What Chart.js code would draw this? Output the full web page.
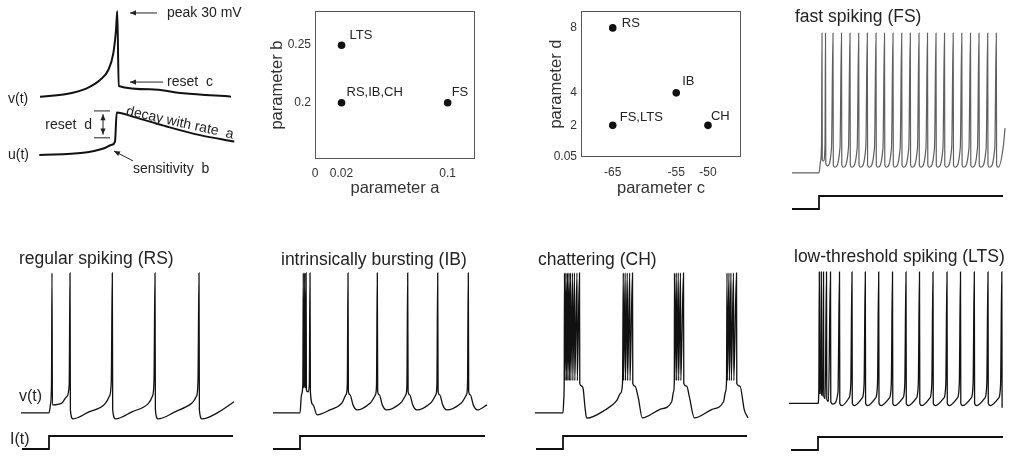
<!DOCTYPE html>
<html>
<head>
<meta charset="utf-8">
<title>Izhikevich neuron model: parameters and firing patterns</title>
<script src="https://cdn.jsdelivr.net/npm/chart.js"></script>
<style>
  html, body { margin: 0; padding: 0; background: #fff; }
  #page { position: relative; width: 1010px; height: 458px; overflow: hidden; background: #fff; }
  canvas { position: absolute; }
</style>
</head>
<body>
<div id="page">
  <canvas id="schematic" width="255" height="200" style="left:0px;top:0px"></canvas>
  <canvas id="paramAB" width="235" height="200" style="left:255px;top:0px"></canvas>
  <canvas id="paramCD" width="255" height="200" style="left:505px;top:0px"></canvas>
  <canvas id="traceFS" width="240" height="225" style="left:770px;top:0px"></canvas>
  <canvas id="traceRS" width="255" height="218" style="left:0px;top:240px"></canvas>
  <canvas id="traceIB" width="250" height="218" style="left:260px;top:240px"></canvas>
  <canvas id="traceCH" width="245" height="218" style="left:515px;top:240px"></canvas>
  <canvas id="traceLTS" width="240" height="218" style="left:770px;top:240px"></canvas>
</div>
<script>
// ---------- schematic of one spike: membrane potential v and recovery variable u ----------
const schemTime  = [0, 26.7, 46.7, 60, 68.3, 73.3, 76, 77.3, 78.7, 110, 143.3, 191];
const schemV     = [-78.5, -75.1, -67.9, -57.4, -44.7, -23.6, 5.9, 30, -65, -69.2, -74.2, -78.5];
const schemUTime = [-0.7, 43.3, 63.3, 71.7, 75, 76.7, 93.3, 126.7, 160, 194.3];
const schemU     = [-14, -13.6, -12.8, -12.1, -11.5, -6.1, -6.9, -8.7, -10.3, -11.5];

// ---------- parameter maps ----------
const cellTypesAB = ['LTS', 'RS,IB,CH', 'FS'];
const paramA = [0.02, 0.02, 0.1];
const paramB = [0.25, 0.2, 0.2];
const aTicks = [0, 0.02, 0.1];
const bTicks = [0.2, 0.25];

const cellTypesCD = ['RS', 'IB', 'FS,LTS', 'CH'];
const paramC = [-65, -55, -65, -50];
const paramD = [8, 4, 2, 2];
const cTicks = [-65, -55, -50];
const dTicks = [0.05, 2, 4, 8];

// ---------- injected current step (I) ----------
const stepCurrent = [0, 0, 10, 10];
const rsStimTime  = [1, 28, 28, 212];
const ibStimTime  = [0, 27, 27, 212];
const chStimTime  = [1, 28, 28, 212];
const ltsStimTime = [2, 29, 29, 214];
const fsStimTime  = [0, 27, 27, 211];

// ---------- regular spiking (RS) ----------
const rsTime = [0, 28, 29.5, 30.5, 31, 31.4, 40.7, 45.7, 48.2, 49, 49.4, 52, 68, 84, 88.5, 90.3, 91.3,
  91.7, 94.5, 111, 127, 131.5, 133, 134, 134.4, 137, 154, 170, 175.5, 177, 178, 178.4, 181, 198, 213];
const rsVolt = [-70, -70, -64, -50, 30, -64.3, -63.1, -58.4, -50, 30, -68, -74.3, -69.3, -63.6, -58, -47, 30,
  -68, -74.3, -69.3, -63.6, -58, -47, 30, -68, -74.3, -69.3, -63.6, -58, -47, 30, -68, -74.3, -69.3, -62.1];

// ---------- intrinsically bursting (IB) ----------
const ibTime = [0, 27, 28.5, 29.8, 30.3, 30.6, 31.2, 31.7, 32, 32.6, 33.1, 33.4, 35, 36.3, 37,
  37.4, 40, 44, 57, 69, 73, 74.3, 75,
  75.4, 77, 80, 84, 97.3, 102.5, 103.5, 104.3,
  104.7, 106.3, 109.3, 113.3, 127.7, 132.9, 133.9, 134.7,
  135.1, 136.7, 139.7, 143.7, 157.7, 162.9, 163.9, 164.7,
  165.1, 166.7, 169.7, 173.7, 188.3, 193.5, 194.5, 195.3,
  195.7, 197.3, 200.3, 204.3, 214];
const ibVolt = [-70, -70, -57, -50, 30, -52, -50, 30, -52, -50, 30, -53.5, -55, -50, 30,
  -55, -64.3, -71.4, -67.9, -62.9, -57, -50, 30,
  -55, -57.1, -64.3, -67.9, -62.9, -57, -50, 30,
  -55, -57.1, -64.3, -67.9, -62.9, -57, -50, 30,
  -55, -57.1, -64.3, -67.9, -62.9, -57, -50, 30,
  -55, -57.1, -64.3, -67.9, -62.9, -57, -50, 30,
  -55, -57.1, -64.3, -67.9, -64.3];

// ---------- chattering (CH) ----------
const chTime = [0, 28, 28.8, 29.2, 29.5, 29.8, 31, 31.3, 32.5, 32.8, 34, 34.3, 35.5, 35.8, 37.5, 37.8, 39.5, 39.8, 42, 42.3, 44.5,
  44.8, 47, 48.3, 50, 51.7, 70, 81.7, 85.5, 87.5,
  88.3, 88.6, 90.2, 90.5, 92.3, 92.6, 94.7, 95, 97.5,
  97.8, 100, 103.3, 107.3, 125, 136.7, 138.5, 139.3,
  139.5, 139.8, 141.3, 141.6, 143.3, 143.6, 145.5, 145.8, 148.5,
  148.8, 151.7, 154.5, 159.3, 177, 188.5, 190.5, 191.5,
  192, 192.3, 194, 194.3, 196, 196.3, 198.5, 198.8, 201.5,
  201.8, 205, 209.3, 213];
const chVolt = [-70, -70, -60, -48, 30, -47, 30, -47, 30, -47, 30, -47, 30, -47, 30, -47, 30, -47, 30, -47, 30,
  -49, -51, -53.6, -66, -73.8, -68, -61.2, -56, -49,
  30, -47, 30, -47, 30, -47, 30, -47, 30,
  -49, -51, -59.3, -73.6, -67.5, -62.1, -55, -48,
  30, -47, 30, -47, 30, -47, 30, -47, 30,
  -49, -51, -59, -73.6, -67.5, -62.1, -55, -48,
  30, -47, 30, -47, 30, -47, 30, -47, 30,
  -49, -51, -67.9, -73.6];

// ---------- low-threshold spiking (LTS) ----------
const ltsTime = [0, 29, 29.8, 30.3, 30.6, 31.5, 32.3, 32.6, 33.6, 34.5, 34.8, 36.2, 37.5, 37.8, 39.5, 41.5,
  41.8, 44, 49, 50.5,
  50.8, 53, 60, 61.8, 63,
  63.3, 65.5, 73.3, 75.1, 76.3,
  76.6, 78.8, 86.7, 88.5, 89.7,
  90, 92.2, 100.5, 102.3, 103.5,
  103.8, 106, 114, 115.8, 117,
  117.3, 119.5, 127.5, 129.3, 130.5,
  130.8, 133, 141, 142.8, 144,
  144.3, 146.5, 155, 156.8, 158,
  158.3, 160.5, 168.5, 170.3, 171.5,
  171.8, 174, 182.3, 184.1, 185.3,
  185.6, 187.8, 196, 197.8, 199,
  199.3, 201.5, 209.8, 211.6, 212.8,
  213.1];
const ltsVolt = [-64, -64, -55, 30, -56, -57, 30, -57.5, -58.5, 30, -59, -60.5, 30, -61, -62.5, 30,
  -63, -64.5, -56, 30,
  -64, -65.5, -60, -50, 30,
  -64, -65.5, -60, -50, 30,
  -64, -65.5, -60, -50, 30,
  -64, -65.5, -60, -50, 30,
  -64, -65.5, -60, -50, 30,
  -64, -65.5, -60, -50, 30,
  -64, -65.5, -60, -50, 30,
  -64, -65.5, -60, -50, 30,
  -64, -65.5, -60, -50, 30,
  -64, -65.5, -60, -50, 30,
  -64, -65.5, -60, -50, 30,
  -64, -65.5, -60, -50, 30,
  -67];

// ---------- fast spiking (FS) ----------
const fsTime = [0, 27, 28.5, 29.5, 30, 30.3, 31.5, 33, 33.5, 33.8, 35.5, 39.5, 41,
  41.3, 43, 48, 49.5,
  49.8, 51.5, 56.5, 58,
  58.3, 60, 65.2, 66.7,
  67, 68.7, 73.8, 75.3,
  75.6, 77.3, 82.5, 84,
  84.3, 86, 91, 92.5,
  92.8, 94.5, 99.5, 101,
  101.3, 103, 108.2, 109.7,
  110, 111.7, 116.8, 118.3,
  118.6, 120.3, 125.5, 127,
  127.3, 129, 134, 135.5,
  135.8, 137.5, 142.5, 144,
  144.3, 146, 151, 152.5,
  152.8, 154.5, 159.7, 161.2,
  161.5, 163.2, 168.3, 169.8,
  170.1, 171.8, 177, 178.5,
  178.8, 180.5, 185.5, 187,
  187.3, 189, 194.2, 195.7,
  196, 197.7, 202.8, 204.3,
  204.6, 206.3, 211.5, 213];
const fsVolt = [-70, -70, -62, -50, 30, -60.5, -61.5, -50, 30, -63, -65, -52, 30,
  -64.5, -66, -52, 30,
  -64.5, -66, -52, 30,
  -64.5, -66, -52, 30,
  -64.5, -66, -52, 30,
  -64.5, -66, -52, 30,
  -64.5, -66, -52, 30,
  -64.5, -66, -52, 30,
  -64.5, -66, -52, 30,
  -64.5, -66, -52, 30,
  -64.5, -66, -52, 30,
  -64.5, -66, -52, 30,
  -64.5, -66, -52, 30,
  -64.5, -66, -52, 30,
  -64.5, -66, -52, 30,
  -64.5, -66, -52, 30,
  -64.5, -66, -52, 30,
  -64.5, -66, -52, 30,
  -64.5, -66, -52, 30,
  -64.5, -66, -52, 30,
  -64.5, -66, -50, -38];

// ---------- drawing ----------
const FONT = '"Liberation Sans", Arial, Helvetica, sans-serif';
Chart.defaults.font.family = FONT;
Chart.defaults.color = '#333';

const pairs = (xs, ys) => xs.map((x, i) => ({ x: x, y: ys[i] }));

function arrowHead(ctx, x1, y1, x2, y2) {
  const ang = Math.atan2(y2 - y1, x2 - x1), len = 6, half = 2.6;
  ctx.beginPath();
  ctx.moveTo(x2, y2);
  ctx.lineTo(x2 - len * Math.cos(ang) + half * Math.sin(ang), y2 - len * Math.sin(ang) - half * Math.cos(ang));
  ctx.lineTo(x2 - len * Math.cos(ang) - half * Math.sin(ang), y2 - len * Math.sin(ang) + half * Math.cos(ang));
  ctx.closePath();
  ctx.fill();
}

// text, arrows and brackets placed in data space (or canvas space for panel titles)
function annotate(items) {
  return {
    id: 'annotate',
    afterDatasetsDraw(chart) {
      const ctx = chart.ctx;
      const place = (p, axis) => [chart.scales.x.getPixelForValue(p[0]), chart.scales[axis].getPixelForValue(p[1])];
      ctx.save();
      items.forEach(it => {
        const axis = it.axis || 'y';
        ctx.strokeStyle = it.color || '#222';
        ctx.fillStyle = it.color || '#222';
        ctx.lineWidth = it.width || 1;
        if (it.kind === 'text') {
          let [x, y] = it.px ? it.px : place(it.at, axis);
          x += it.dx || 0;
          y += it.dy || 0;
          ctx.font = (it.size || 14) + 'px ' + FONT;
          ctx.textAlign = it.align || 'left';
          ctx.textBaseline = 'middle';
          ctx.save();
          ctx.translate(x, y);
          if (it.rotate) ctx.rotate(it.rotate * Math.PI / 180);
          ctx.fillText(it.text, 0, 0);
          ctx.restore();
        } else {
          const [x1, y1] = place(it.from, axis);
          const [x2, y2] = place(it.to, axis);
          ctx.beginPath();
          ctx.moveTo(x1, y1);
          ctx.lineTo(x2, y2);
          ctx.stroke();
          if (it.kind === 'arrow' || it.kind === 'both') arrowHead(ctx, x1, y1, x2, y2);
          if (it.kind === 'both') arrowHead(ctx, x2, y2, x1, y1);
        }
      });
      ctx.restore();
    }
  };
}

// box around a parameter map
const frame = {
  id: 'frame',
  beforeDatasetsDraw(chart) {
    const { left, top, right, bottom } = chart.chartArea;
    const ctx = chart.ctx;
    ctx.save();
    ctx.strokeStyle = '#555';
    ctx.lineWidth = 1;
    ctx.strokeRect(Math.round(left) + 0.5, Math.round(top) + 0.5, Math.round(right - left) - 1, Math.round(bottom - top) - 1);
    ctx.restore();
  }
};

const base = {
  animation: false,
  responsive: false,
  events: [],
  plugins: { legend: { display: false }, tooltip: { enabled: false } }
};

// spike schematic
new Chart(document.getElementById('schematic'), {
  type: 'line',
  data: {
    datasets: [
      { data: pairs(schemTime, schemV), yAxisID: 'y', borderColor: '#111', borderWidth: 2, pointRadius: 0,
        cubicInterpolationMode: 'monotone', clip: false },
      { data: pairs(schemUTime, schemU), yAxisID: 'yU', borderColor: '#111', borderWidth: 2, pointRadius: 0,
        cubicInterpolationMode: 'monotone', clip: false }
    ]
  },
  options: Object.assign({}, base, {
    layout: { padding: { left: 40, right: 15, top: 5, bottom: 15 } },
    scales: {
      x: { type: 'linear', display: false, min: 0, max: 200 },
      y: { type: 'linear', display: false, min: -190.4, max: 37.6 },
      yU: { type: 'linear', display: false, min: -19.58, max: 13.91 }
    }
  }),
  plugins: [annotate([
    { kind: 'arrow', from: [117, 27.5], to: [90, 27.5] },
    { kind: 'text', text: 'peak 30 mV', at: [127, 27.5] },
    { kind: 'arrow', from: [123, -60], to: [90, -60] },
    { kind: 'text', text: 'reset  c', at: [127, -60] },
    { kind: 'text', text: 'v(t)', at: [-32, -81.5] },
    { kind: 'text', text: 'u(t)', at: [-32, -14], axis: 'yU' },
    { kind: 'line', from: [54, -5.8], to: [70, -5.8], axis: 'yU' },
    { kind: 'line', from: [54, -10.8], to: [70, -10.8], axis: 'yU' },
    { kind: 'both', from: [63, -6.4], to: [63, -10.2], axis: 'yU' },
    { kind: 'text', text: 'reset  d', at: [52, -8.4], axis: 'yU', align: 'right' },
    { kind: 'text', text: 'decay with rate  a', at: [140, -8.05], axis: 'yU', align: 'center', rotate: 12.5 },
    { kind: 'arrow', from: [93, -15.1], to: [74, -13.26], axis: 'yU' },
    { kind: 'text', text: 'sensitivity  b', at: [93, -16.6], axis: 'yU' }
  ])]
});

// parameter maps (a,b) and (c,d)
function paramChart(id, o) {
  new Chart(document.getElementById(id), {
    type: 'scatter',
    data: {
      datasets: [{ data: pairs(o.xs, o.ys), pointRadius: 3.8, pointHoverRadius: 3.8,
        backgroundColor: '#111', borderColor: '#111', borderWidth: 0 }]
    },
    options: Object.assign({}, base, {
      layout: { padding: o.pad },
      scales: {
        x: {
          type: 'linear', min: o.xMin, max: o.xMax,
          afterBuildTicks: s => { s.ticks = o.xTicks.map(v => ({ value: v })); },
          afterFit: s => { s.height = o.xAxisHeight; },
          grid: { display: false, drawTicks: false }, border: { display: false },
          ticks: { padding: o.xTickPad, font: { size: 12 }, color: '#333', maxRotation: 0, autoSkip: false,
                   callback: v => String(v) },
          title: { display: true, text: o.xTitle, font: { size: 16.5 }, color: '#333', padding: { top: 0, bottom: 2 } }
        },
        y: {
          type: 'linear', min: o.yMin, max: o.yMax,
          afterBuildTicks: s => { s.ticks = o.yTicks.map(v => ({ value: v })); },
          afterFit: s => { s.width = o.yAxisWidth; },
          grid: { display: false, drawTicks: false }, border: { display: false },
          ticks: { padding: 4, font: { size: 12 }, color: '#333', autoSkip: false, callback: v => String(v) },
          title: { display: true, text: o.yTitle, font: { size: 16.5 }, color: '#333', padding: { top: o.yTitlePad, bottom: 0 } }
        }
      }
    }),
    plugins: [frame, annotate(o.labels)]
  });
}

paramChart('paramAB', {
  xs: paramA, ys: paramB, xTicks: aTicks, yTicks: bTicks,
  xMin: 0, xMax: 0.1206, yMin: 0.1512, yMax: 0.2795,
  pad: { left: 0, right: 15, top: 11, bottom: 0 },
  xAxisHeight: 41, yAxisWidth: 60, xTickPad: 7, yTitlePad: 13,
  xTitle: 'parameter a', yTitle: 'parameter b',
  labels: [
    { kind: 'text', text: cellTypesAB[0], at: [paramA[0], paramB[0]], dx: 8, dy: -10, size: 13 },
    { kind: 'text', text: cellTypesAB[1], at: [paramA[1], paramB[1]], dx: 5, dy: -10, size: 13 },
    { kind: 'text', text: cellTypesAB[2], at: [paramA[2], paramB[2]], dx: 4, dy: -10, size: 13 }
  ]
});

paramChart('paramCD', {
  xs: paramC, ys: paramD, xTicks: cTicks, yTicks: dTicks,
  xMin: -70, xMax: -44.8, yMin: 0.05, yMax: 9.03,
  pad: { left: 0, right: 19, top: 10, bottom: 0 },
  xAxisHeight: 43, yAxisWidth: 76, xTickPad: 8, yTitlePad: 42,
  xTitle: 'parameter c', yTitle: 'parameter d',
  labels: [
    { kind: 'text', text: cellTypesCD[0], at: [paramC[0], paramD[0]], dx: 9, dy: -5, size: 13 },
    { kind: 'text', text: cellTypesCD[1], at: [paramC[1], paramD[1]], dx: 6, dy: -11, size: 13 },
    { kind: 'text', text: cellTypesCD[2], at: [paramC[2], paramD[2]], dx: 7, dy: -8, size: 13 },
    { kind: 'text', text: cellTypesCD[3], at: [paramC[3], paramD[3]], dx: 3, dy: -8.5, size: 13 }
  ]
});

// voltage trace above its current step
function traceChart(id, o) {
  new Chart(document.getElementById(id), {
    type: 'line',
    data: {
      datasets: [
        { data: pairs(o.time, o.volt), yAxisID: 'yV', borderColor: o.color || '#111', borderWidth: o.width || 1.3,
          pointRadius: 0, cubicInterpolationMode: 'monotone', clip: false, fill: false },
        { data: pairs(o.stimTime, stepCurrent), yAxisID: 'yI', borderColor: '#111', borderWidth: 1.8,
          pointRadius: 0, tension: 0, clip: false, fill: false }
      ]
    },
    options: Object.assign({}, base, {
      layout: { padding: o.pad },
      scales: {
        x: { type: 'linear', display: false, min: 0, max: 214 },
        yV: { type: 'linear', display: false, min: -98, max: 35 },
        yI: { type: 'linear', display: false, min: o.iMin, max: o.iMax }
      }
    }),
    plugins: [annotate(o.labels)]
  });
}

const TITLE = 17.5;
traceChart('traceFS', {
  time: fsTime, volt: fsVolt, stimTime: fsStimTime, color: '#5f5f5f', width: 1.2,
  pad: { left: 22, right: 4, top: 26, bottom: 13 }, iMin: -2.3, iMax: 140.8,
  labels: [{ kind: 'text', text: 'fast spiking (FS)', px: [25, 17], size: TITLE, color: '#222' }]
});
traceChart('traceRS', {
  time: rsTime, volt: rsVolt, stimTime: rsStimTime,
  pad: { left: 21, right: 20, top: 26, bottom: 6 }, iMin: -2.3, iMax: 140.8,
  labels: [
    { kind: 'text', text: 'regular spiking (RS)', px: [19, 19], size: TITLE, color: '#222' },
    { kind: 'text', text: 'v(t)', px: [19, 157], size: 16, color: '#222' },
    { kind: 'text', text: 'I(t)', px: [10, 200], size: 16, color: '#222' }
  ]
});
traceChart('traceIB', {
  time: ibTime, volt: ibVolt, stimTime: ibStimTime,
  pad: { left: 13, right: 23, top: 26, bottom: 6 }, iMin: -2.3, iMax: 140.8,
  labels: [{ kind: 'text', text: 'intrinsically bursting (IB)', px: [21, 20], size: TITLE, color: '#222' }]
});
traceChart('traceCH', {
  time: chTime, volt: chVolt, stimTime: chStimTime,
  pad: { left: 20, right: 11, top: 26, bottom: 6 }, iMin: -2.3, iMax: 140.8,
  labels: [{ kind: 'text', text: 'chattering (CH)', px: [23, 20], size: TITLE, color: '#222' }]
});
traceChart('traceLTS', {
  time: ltsTime, volt: ltsVolt, stimTime: ltsStimTime,
  pad: { left: 19, right: 7, top: 25, bottom: 7 }, iMin: -0.77, iMax: 142.3,
  labels: [{ kind: 'text', text: 'low-threshold spiking (LTS)', px: [24, 17], size: TITLE, color: '#222' }]
});
</script>
</body>
</html>
